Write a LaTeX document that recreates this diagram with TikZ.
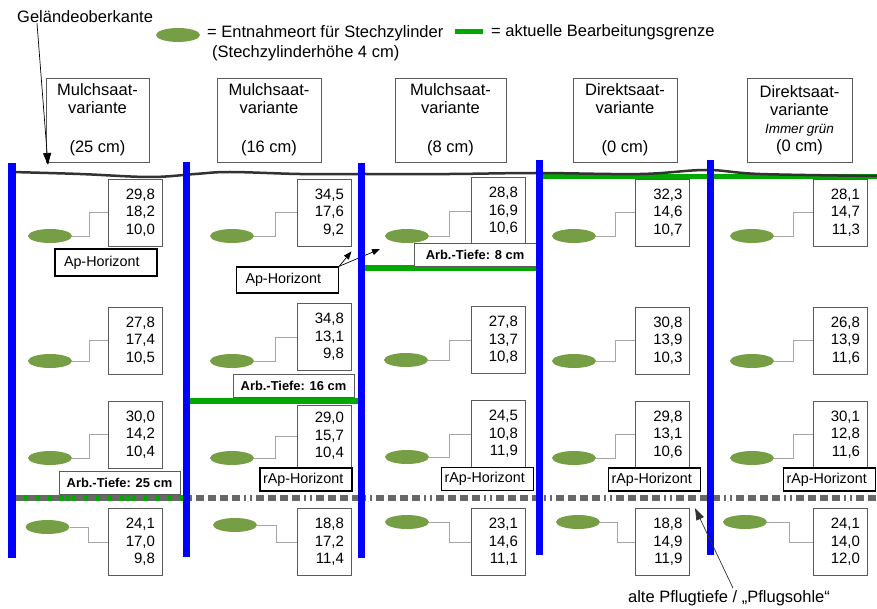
\documentclass[tikz,border=0pt]{standalone}
\usepackage{fontspec}
\setmainfont{Liberation Sans}
\usepackage{xcolor}
\usepackage{tikz}
\usetikzlibrary{arrows.meta, shapes.geometric, calc}

\definecolor{probengruen}{RGB}{118,158,68}
\definecolor{grenzgruen}{RGB}{0,168,0}
\definecolor{sohlengrau}{RGB}{104,104,104}
\definecolor{bodenlinie}{RGB}{50,50,50}
\definecolor{rahmengrau}{RGB}{90,90,90}

\newcommand{\messwerte}[3]{#1\hspace*{9pt}\\#2\hspace*{5.5pt}\\#3\hspace*{2pt}}

\begin{document}
\begin{tikzpicture}[
    x=1pt, y=-1pt,
    kopf/.style={
        rectangle,
        draw=rahmengrau,
        line width=0.9pt,
        fill=white,
        align=center,
        minimum width=104pt,
        minimum height=84pt,
        inner sep=0pt,
        font=\fontsize{16.5}{18}\selectfont
    },
    wert/.style={
        rectangle,
        draw=rahmengrau,
        line width=0.9pt,
        fill=white,
        text width=40pt,
        align=right,
        minimum width=54pt,
        minimum height=67pt,
        inner sep=0pt,
        font=\fontsize{15}{17.5}\selectfont
    },
    probe/.style={
        ellipse,
        fill=probengruen,
        minimum width=44pt,
        minimum height=14pt,
        inner sep=0pt
    },
    aphorizont/.style={
        rectangle,
        draw=black,
        line width=1.4pt,
        fill=white,
        align=left,
        text width=84pt,
        inner xsep=9pt,
        inner ysep=0pt,
        minimum height=26pt,
        font=\fontsize{14.3}{16}\selectfont
    },
    raphorizont/.style={
        aphorizont,
        text width=86pt,
        inner xsep=3pt,
        minimum height=23pt
    },
    tiefe/.style={
        rectangle,
        draw=rahmengrau,
        line width=1pt,
        fill=white,
        minimum width=121pt,
        minimum height=23pt,
        inner sep=0pt,
        font=\bfseries\fontsize{12.9}{14}\selectfont
    },
    verbinder/.style={
        draw=gray!70,
        line width=0.8pt,
        to path={-| ($(\tikztostart)!0.5!(\tikztotarget)$) |- (\tikztotarget)}
    },
    pfeil/.style={
        -{Triangle[length=12pt,width=8pt]},
        line width=0.7pt,
        black
    },
    grenze/.style={
        grenzgruen,
        line width=6pt
    },
    parzelle/.style={
        blue,
        line width=7pt
    },
    sohle/.style={
        sohlengrau,
        line width=6pt,
        dash pattern={on 8pt off 4pt on 8pt off 4pt on 8pt off 4pt on 8pt off 4pt on 2pt off 4pt on 2pt off 4pt}
    }
]

\fill[white] (0,0) rectangle (877,609);
\useasboundingbox (0,0) rectangle (877,609);

% Gelaendeoberkante
\draw[grenze, line width=5pt] (540,177) -- (877,177);
\draw[bodenlinie, line width=2.5pt] plot[smooth, tension=0.6] coordinates {(12,172) (80,174) (150,177) (195,174) (230,172) (300,174) (361,174) (450,174) (537,173) (640,174) (706,170) (760,174) (877,176)};

% Bearbeitungsgrenzen und alte Pflugsohle
\draw[grenze] (364,268) -- (536,268);
\draw[grenze] (190,401) -- (358,401);
\draw[grenze] (16,498) -- (183,498);
\draw[sohle] (16,498) -- (877,498);

% Legende
\node[anchor=west, inner sep=0pt, font=\fontsize{16.5}{18}\selectfont] (gok) at (17,17) {Geländeoberkante};
\coordinate (gokziel) at (48,165);
\node[probe] (legprobe) at (178,35) {};
\node[anchor=west, align=left, inner sep=0pt, font=\fontsize{16.5}{20}\selectfont] (legtext) at (207,43) {= Entnahmeort für Stechzylinder\\\hspace*{5pt}(Stechzylinderhöhe 4 cm)};
\draw[grenze, line width=5pt] (455,32) -- (483,32);
\node[anchor=west, inner sep=0pt, font=\fontsize{16.5}{18}\selectfont] (leggrenze) at (491,32) {= aktuelle Bearbeitungsgrenze};

% Varianten
\node[kopf, minimum width=103pt] (kopf1) at (97.5,120) {Mulchsaat-\\variante\\[21pt](25 cm)};
\node[kopf] (kopf2) at (269,120) {Mulchsaat-\\variante\\[21pt](16 cm)};
\node[kopf, minimum width=111pt] (kopf3) at (450.5,120) {Mulchsaat-\\variante\\[21pt](8 cm)};
\node[kopf] (kopf4) at (625,120) {Direktsaat-\\variante\\[21pt](0 cm)};
\node[kopf, minimum width=105pt] (kopf5) at (799.5,120) {Direktsaat-\\variante\\{\itshape\fontsize{13.5}{18}\selectfont Immer grün}\\(0 cm)};

% Messwerte
\node[wert] (b11) at (135,212.5) {\messwerte{29,8}{18,2}{10,0}};
\node[wert] (b12) at (135,340.5) {\messwerte{27,8}{17,4}{10,5}};
\node[wert] (b13) at (135,434.5) {\messwerte{30,0}{14,2}{10,4}};
\node[wert] (b14) at (135,542) {\messwerte{24,1}{17,0}{9,8}};
\node[wert] (b21) at (324,212.5) {\messwerte{34,5}{17,6}{9,2}};
\node[wert] (b22) at (324,337) {\messwerte{34,8}{13,1}{9,8}};
\node[wert, minimum height=62pt] (b23) at (324,436) {\messwerte{29,0}{15,7}{10,4}};
\node[wert] (b24) at (324,542) {\messwerte{18,8}{17,2}{11,4}};
\node[wert] (b31) at (498,211) {\messwerte{28,8}{16,9}{10,6}};
\node[wert] (b32) at (498,340) {\messwerte{27,8}{13,7}{10,8}};
\node[wert] (b33) at (498,434) {\messwerte{24,5}{10,8}{11,9}};
\node[wert] (b34) at (498,542) {\messwerte{23,1}{14,6}{11,1}};
\node[wert] (b41) at (662.5,212.5) {\messwerte{32,3}{14,6}{10,7}};
\node[wert] (b42) at (662.5,340.5) {\messwerte{30,8}{13,9}{10,3}};
\node[wert] (b43) at (662.5,434.5) {\messwerte{29,8}{13,1}{10,6}};
\node[wert] (b44) at (662.5,542) {\messwerte{18,8}{14,9}{11,9}};
\node[wert] (b51) at (840,212.5) {\messwerte{28,1}{14,7}{11,3}};
\node[wert] (b52) at (840,340.5) {\messwerte{26,8}{13,9}{11,6}};
\node[wert] (b53) at (840,434.5) {\messwerte{30,1}{12,8}{11,6}};
\node[wert] (b54) at (840,542) {\messwerte{24,1}{14,0}{12,0}};

% Entnahmeorte
\node[probe] (e11) at (50,236) {};
\node[probe] (e12) at (50,361) {};
\node[probe] (e13) at (50,458) {};
\node[probe] (e14) at (47.5,527) {};
\node[probe] (e21) at (232,236) {};
\node[probe] (e22) at (232,361) {};
\node[probe] (e23) at (232,458) {};
\node[probe] (e24) at (235,525) {};
\node[probe] (e31) at (407,236) {};
\node[probe] (e32) at (406,360) {};
\node[probe] (e33) at (407,457) {};
\node[probe] (e34) at (407,522) {};
\node[probe] (e41) at (574,236) {};
\node[probe] (e42) at (574,361) {};
\node[probe] (e43) at (574,458) {};
\node[probe] (e44) at (578,522) {};
\node[probe] (e51) at (752,236) {};
\node[probe] (e52) at (752,361) {};
\node[probe] (e53) at (752,458) {};
\node[probe] (e54) at (745,522) {};

\draw[verbinder] (e11.east) to (b11.west);
\draw[verbinder] (e12.east) to (b12.west);
\draw[verbinder] (e13.east) to (b13.west);
\draw[verbinder] (e14.east) to (b14.west);
\draw[verbinder] (e21.east) to (b21.west);
\draw[verbinder] (e22.east) to (b22.west);
\draw[verbinder] (e23.east) to (b23.west);
\draw[verbinder] (e24.east) to (b24.west);
\draw[verbinder] (e31.east) to (b31.west);
\draw[verbinder] (e32.east) to (b32.west);
\draw[verbinder] (e33.east) to (b33.west);
\draw[verbinder] (e34.east) to (b34.west);
\draw[verbinder] (e41.east) to (b41.west);
\draw[verbinder] (e42.east) to (b42.west);
\draw[verbinder] (e43.east) to (b43.west);
\draw[verbinder] (e44.east) to (b44.west);
\draw[verbinder] (e51.east) to (b51.west);
\draw[verbinder] (e52.east) to (b52.west);
\draw[verbinder] (e53.east) to (b53.west);
\draw[verbinder] (e54.east) to (b54.west);

% Horizonte und Arbeitstiefen
\node[aphorizont, minimum height=27pt] (ap1) at (106,262.5) {Ap-Horizont};
\node[aphorizont] (ap2) at (287.5,280) {Ap-Horizont};
\node[tiefe, minimum width=122pt] (tiefe8) at (475,255) {Arb.-Tiefe: 8 cm};
\node[tiefe] (tiefe16) at (293.5,385.5) {Arb.-Tiefe: 16 cm};
\node[tiefe] (tiefe25) at (119.5,482.5) {Arb.-Tiefe: 25 cm};
\node[raphorizont] (rap2) at (306,479.5) {rAp-Horizont};
\node[raphorizont] (rap3) at (487.5,479) {rAp-Horizont};
\node[raphorizont] (rap4) at (654.5,479.5) {rAp-Horizont};
\node[raphorizont] (rap5) at (829.5,479.5) {rAp-Horizont};

\coordinate (apziel) at (380,249);
\draw[pfeil] ([xshift=20pt]gok.south west) -- (gokziel);
\draw[pfeil, -{Triangle[length=8pt,width=6pt]}] (ap2.north east) -- ([yshift=-5pt]b21.south east);
\draw[pfeil, -{Triangle[length=8pt,width=6pt]}] (ap2.north east) -- (apziel);

% Parzellengrenzen
\draw[parzelle, line width=8pt] (12,163) -- (12,558);
\draw[parzelle] (186.5,162) -- (186.5,557);
\draw[parzelle] (361,163) -- (361,558);
\draw[parzelle] (539.5,160) -- (539.5,555);
\draw[parzelle] (710.5,160) -- (710.5,555);

% Pflugsohle
\node[inner sep=0pt, font=\fontsize{16.5}{18}\selectfont] (pflug) at (729,598) {alte Pflugtiefe / „Pflugsohle“};
\coordinate (sohlenpunkt) at (695,508);
\draw[pfeil, bodenlinie] ([xshift=4pt, yshift=2pt]pflug.north) -- (sohlenpunkt);

\end{tikzpicture}
\end{document}
